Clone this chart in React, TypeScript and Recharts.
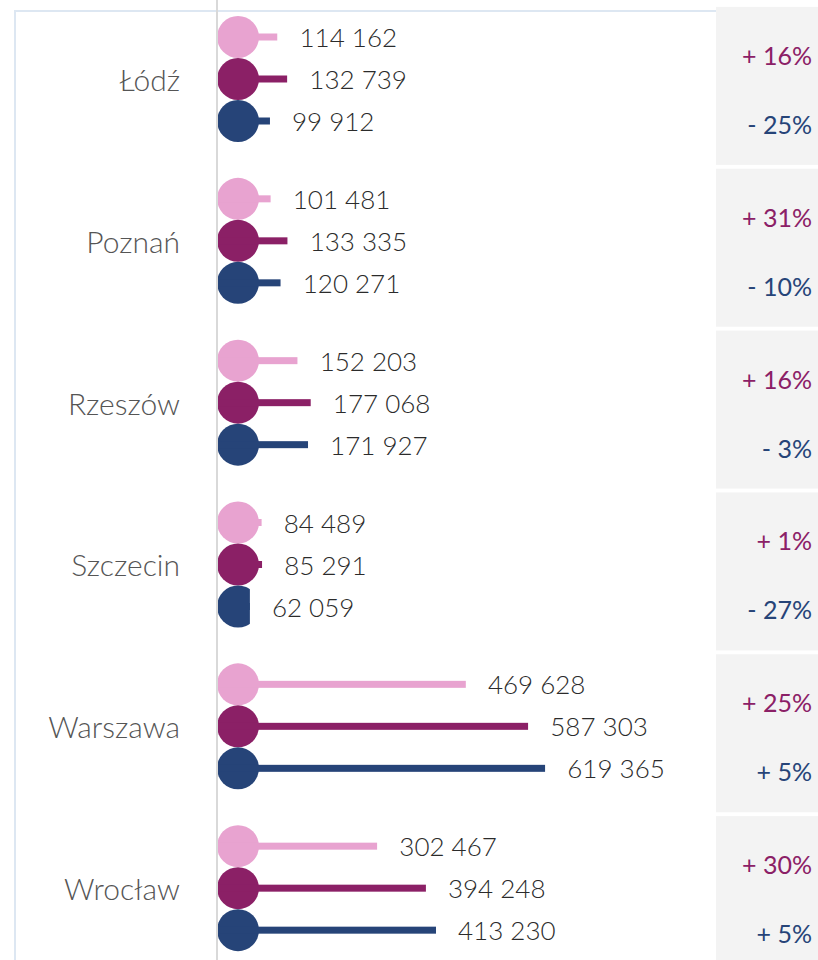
import React from 'react';
import { BarChart, Bar, XAxis, YAxis, LabelList } from 'recharts';

const cities = ['Łódź', 'Poznań', 'Rzeszów', 'Szczecin', 'Warszawa', 'Wrocław'];
const pinkValues = [114162, 101481, 152203, 84489, 469628, 302467];
const purpleValues = [132739, 133335, 177068, 85291, 587303, 394248];
const blueValues = [99912, 120271, 171927, 62059, 619365, 413230];
const purpleChanges = ['+ 16%', '+ 31%', '+ 16%', '+ 1%', '+ 25%', '+ 30%'];
const blueChanges = ['- 25%', '- 10%', '- 3%', '- 27%', '+ 5%', '+ 5%'];

const PINK = '#e8a3d0';
const PURPLE = '#8b2066';
const BLUE = '#264478';

const data = cities.map((city, i) => ({
  city,
  pink: pinkValues[i],
  purple: purpleValues[i],
  blue: blueValues[i],
}));

const fmt = (v: number) => String(v).replace(/\B(?=(\d{3})+(?!\d))/g, ' ');

// circle at the start of the bar + thin stem, all clipped to the bar's length
const LollipopShape = (props: any) => {
  const { x, y, width, height, fill, index, dataKey } = props;
  const r = height / 2;
  const cy = y + r;
  const id = `clip-${dataKey}-${index}`;
  return (
    <g>
      <defs>
        <clipPath id={id}>
          <rect x={x} y={y - 2} width={Math.max(width, 0)} height={height + 4} />
        </clipPath>
      </defs>
      <g clipPath={`url(#${id})`}>
        <circle cx={x + r} cy={cy} r={r} fill={fill} />
        <rect x={x} y={cy - 3.5} width={width} height={7} fill={fill} />
      </g>
    </g>
  );
};

const ValueLabel = (props: any) => {
  const { x, y, width, height, value } = props;
  return (
    <text
      x={x + width + 22}
      y={y + height / 2}
      dominantBaseline="central"
      fontSize={26}
      fontWeight={300}
      fill="#2b2b2b"
      fontFamily="Lato, sans-serif"
    >
      {fmt(value)}
    </text>
  );
};

const CityTick = (props: any) => {
  const { y, payload } = props;
  return (
    <text
      x={180}
      y={y}
      textAnchor="end"
      dominantBaseline="central"
      fontSize={30}
      fontWeight={300}
      fill="#555555"
      fontFamily="Lato, sans-serif"
    >
      {payload.value}
    </text>
  );
};

const ChangeTick = (props: any) => {
  const { y, index } = props;
  return (
    <g>
      <rect x={716} y={y - 72} width={110} height={158} fill="#f3f3f3" />
      <text x={812} y={y - 24} textAnchor="end" dominantBaseline="central" fontSize={25} fill={PURPLE} fontFamily="Lato, sans-serif">
        {purpleChanges[index]}
      </text>
      <text x={812} y={y + 45} textAnchor="end" dominantBaseline="central" fontSize={25} fill={BLUE} fontFamily="Lato, sans-serif">
        {blueChanges[index]}
      </text>
    </g>
  );
};

const App: React.FC = () => {
  return (
    <div style={{ position: 'fixed', left: 0, top: 0, width: 818, height: 960, overflow: 'hidden', background: '#fff' }}>
      <div
        style={{
          position: 'absolute',
          left: 14,
          top: 10,
          width: 900,
          height: 1000,
          borderLeft: '2px solid #dde7f2',
          borderTop: '2px solid #dde7f2',
        }}
      />
      <div style={{ position: 'absolute', left: 0, top: -2 }}>
        <BarChart
          width={818}
          height={975}
          data={data}
          layout="vertical"
          margin={{ top: 0, right: 0, bottom: 4, left: 0 }}
          barSize={42}
          barGap={0}
        >
          <XAxis type="number" domain={[0, 900000]} hide />
          <YAxis
            dataKey="city"
            type="category"
            width={217}
            axisLine={{ stroke: '#d9d9d9', strokeWidth: 2 }}
            tickLine={false}
            tick={<CityTick />}
          />
          <YAxis
            yAxisId="right"
            dataKey="city"
            type="category"
            orientation="right"
            width={124}
            axisLine={false}
            tickLine={false}
            tick={<ChangeTick />}
          />
          <Bar dataKey="pink" fill={PINK} shape={<LollipopShape />} isAnimationActive={false}>
            <LabelList dataKey="pink" content={<ValueLabel />} />
          </Bar>
          <Bar dataKey="purple" fill={PURPLE} shape={<LollipopShape />} isAnimationActive={false}>
            <LabelList dataKey="purple" content={<ValueLabel />} />
          </Bar>
          <Bar dataKey="blue" fill={BLUE} shape={<LollipopShape />} isAnimationActive={false}>
            <LabelList dataKey="blue" content={<ValueLabel />} />
          </Bar>
        </BarChart>
      </div>
    </div>
  );
};

export default App;
